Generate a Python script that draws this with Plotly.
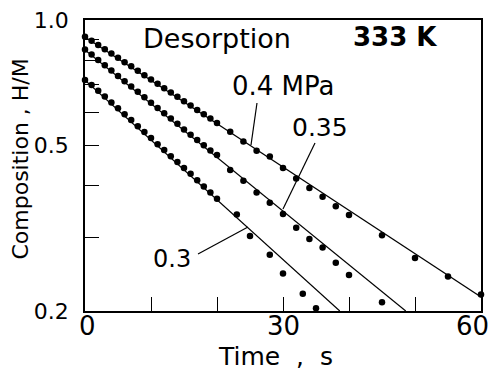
import plotly.graph_objects as go

# ---- data ----
t_04 = [0, 1, 2, 3, 4, 5, 6, 7, 8, 9, 10, 11, 12, 13, 14, 15, 16, 17, 18, 19, 20,
        22, 24, 26, 28, 30, 32, 34, 36, 38, 40, 45, 50, 55, 60]
c_04 = [0.912, 0.892, 0.871, 0.851, 0.831, 0.812, 0.792, 0.774, 0.755, 0.737, 0.72,
        0.703, 0.686, 0.67, 0.654, 0.638, 0.623, 0.608, 0.594, 0.58, 0.566,
        0.539, 0.511, 0.485, 0.47, 0.441, 0.416, 0.395, 0.376, 0.357, 0.34,
        0.304, 0.268, 0.242, 0.219]

t_035 = [0, 1, 2, 3, 4, 5, 6, 7, 8, 9, 10, 11, 12, 13, 14, 15, 16, 17, 18, 19, 20,
         22, 24, 26, 28, 30, 32, 34, 36, 38, 40, 45]
c_035 = [0.85, 0.826, 0.802, 0.779, 0.756, 0.734, 0.713, 0.692, 0.672, 0.652, 0.633,
         0.615, 0.597, 0.58, 0.563, 0.546, 0.53, 0.515, 0.5, 0.486, 0.474,
         0.436, 0.411, 0.385, 0.364, 0.342, 0.317, 0.298, 0.284, 0.261, 0.244, 0.21]

t_03 = [0, 1, 2, 3, 4, 5, 6, 7, 8, 9, 10, 11, 12, 13, 14, 15, 16, 17, 18, 19, 20,
        23, 25, 28, 30, 33, 35]
c_03 = [0.718, 0.698, 0.676, 0.655, 0.634, 0.614, 0.594, 0.575, 0.556, 0.538, 0.521,
        0.503, 0.487, 0.471, 0.456, 0.441, 0.427, 0.412, 0.398, 0.385, 0.372,
        0.341, 0.303, 0.273, 0.246, 0.22, 0.203]

# fitted straight lines (endpoints)
fit_t_04 = [0, 60]
fit_c_04 = [0.91, 0.216]
fit_t_035 = [0, 48.6]
fit_c_035 = [0.847, 0.2]
fit_t_03 = [0, 38.6]
fit_c_03 = [0.717, 0.2]

x_ticks = [0, 10, 20, 30, 40, 50, 60]
x_labels = ["0", "", "", "30", "", "", "60"]
y_ticks = [0.2, 0.3, 0.4, 0.5, 0.6, 0.7, 0.8, 0.9, 1.0]
y_ticktext = ["0.2", "", "", "0.5", "", "", "", "", "1.0"]

FONT = "DejaVu Sans"

fig = go.Figure()
for ft, fc in [(fit_t_04, fit_c_04), (fit_t_035, fit_c_035), (fit_t_03, fit_c_03)]:
    fig.add_trace(go.Scatter(x=ft, y=fc, mode="lines",
                             line=dict(color="black", width=1.2),
                             showlegend=False, hoverinfo="skip"))
for tt, cc in [(t_04, c_04), (t_035, c_035), (t_03, c_03)]:
    fig.add_trace(go.Scatter(x=tt, y=cc, mode="markers",
                             marker=dict(color="black", size=6.5),
                             cliponaxis=False, showlegend=False))

fig.update_xaxes(range=[0, 60], tickvals=x_ticks, showticklabels=False,
                 ticks="inside", ticklen=14, tickwidth=1.3, tickcolor="black",
                 showline=True, linecolor="black", linewidth=1.6, mirror=True,
                 showgrid=False, zeroline=False, automargin=False)
fig.update_yaxes(type="log", range=[-0.69897, 0], tickvals=y_ticks, ticktext=y_ticktext,
                 ticks="inside", ticklen=14, tickwidth=1.3, tickcolor="black",
                 showline=True, linecolor="black", linewidth=1.6, mirror=True,
                 showgrid=False, zeroline=False, automargin=False,
                 tickfont=dict(family=FONT, size=22, color="black"),
                 ticklabelstandoff=10)

# x tick labels (drawn at the tick positions, just below the axis)
n_lab = len(x_ticks)
for i, (xv, lab) in enumerate(zip(x_ticks, x_labels)):
    if not lab:
        continue
    last = i == n_lab - 1
    fig.add_annotation(text=lab, x=xv, y=0, xref="x", yref="paper",
                       showarrow=False, yanchor="middle",
                       xanchor="right" if last else "center",
                       xshift=10 if last else (2 if i == 0 else 0), yshift=-15,
                       font=dict(family=FONT, size=26, color="black"))

# axis titles
fig.add_annotation(text="Time\u00a0\u00a0,\u00a0\u00a0s", x=0.48, y=0, xref="paper", yref="paper",
                   showarrow=False, xanchor="center", yanchor="middle", yshift=-45,
                   font=dict(family=FONT, size=25, color="black"))
fig.add_annotation(text="Composition\u00a0,\u00a0H/M", x=-0.163, y=0.522,
                   xref="paper", yref="paper", textangle=-90,
                   showarrow=False, xanchor="center", yanchor="middle",
                   font=dict(family=FONT, size=22, color="black"))

annots = [
    dict(text="Desorption", x=0.333, y=0.938, size=27, bold=False),
    dict(text="333\u00a0K", x=0.783, y=0.942, size=26, bold=True),
    dict(text="0.4 MPa", x=0.5025, y=0.773, size=26, bold=False),
    dict(text="0.35", x=0.5934, y=0.629, size=25, bold=False),
    dict(text="0.3", x=0.2197, y=0.179, size=24, bold=False),
]
for a in annots:
    fig.add_annotation(text=a["text"], x=a["x"], y=a["y"], xref="paper", yref="paper",
                       showarrow=False, xanchor="center", yanchor="middle",
                       font=dict(family=FONT, size=a["size"], color="black",
                                 weight="bold" if a["bold"] else "normal"))

leaders = [
    (0.4343, 0.7148, 0.4192, 0.5704),
    (0.5808, 0.5773, 0.5, 0.3505),
    (0.2854, 0.1959, 0.4116, 0.2887),
]
for x0, y0, x1, y1 in leaders:
    fig.add_shape(type="line", xref="paper", yref="paper", x0=x0, y0=y0, x1=x1, y1=y1,
                  line=dict(color="black", width=1.2))

fig.update_layout(width=492, height=373,
                  margin=dict(l=85, r=11, t=20, b=62),
                  paper_bgcolor="white", plot_bgcolor="white",
                  font=dict(family=FONT, color="black"))

fig.write_html("out.html", config={"displayModeBar": False},
               post_script="document.body.style.margin='0';document.body.style.padding='0';")
